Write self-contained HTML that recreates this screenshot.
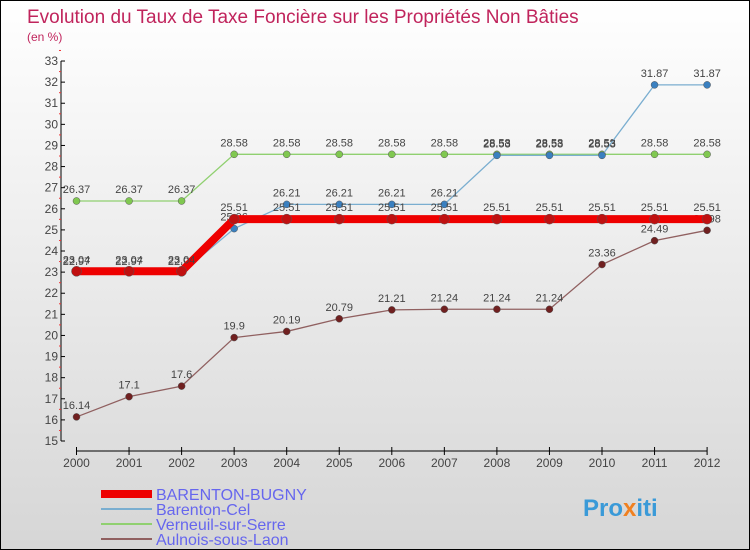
<!DOCTYPE html>
<html><head><meta charset="utf-8"><style>
body{margin:0}
#c{width:748px;height:548px;border:1px solid #000;background:linear-gradient(#fff,#d6d6d6);position:relative;font-family:"Liberation Sans",sans-serif;overflow:hidden}
</style></head><body>
<div id="c">
<svg id="s" width="748" height="548" style="position:absolute;left:0;top:0">
<text x="26" y="22" font-size="19" fill="#c0245c">Evolution du Taux de Taxe Foncière sur les Propriétés Non Bâties</text>
<text x="26" y="40" font-size="12" fill="#c0245c">(en %)</text>
<g id="ax"></g><g id="ser"></g>
<g font-size="16" fill="#6666ee">
<rect x="100" y="489" width="51" height="8" fill="#e00"/>
<text x="155" y="499">BARENTON-BUGNY</text>
<rect x="100" y="507" width="51" height="2" fill="#7aaed0"/>
<text x="155" y="514">Barenton-Cel</text>
<rect x="100" y="522" width="51" height="2" fill="#90d070"/>
<text x="155" y="529">Verneuil-sur-Serre</text>
<rect x="100" y="537" width="51" height="2" fill="#906060"/>
<text x="155" y="544">Aulnois-sous-Laon</text>
</g>
<text x="582" y="515" font-size="24" font-weight="bold" fill="#3a9ad8">Pro<tspan fill="#f08020">x</tspan>iti</text>
</svg></div>
<script>
const years=[2000,2001,2002,2003,2004,2005,2006,2007,2008,2009,2010,2011,2012];
const yTicks=[15,16,17,18,19,20,21,22,23,24,25,26,27,28,29,30,31,32,33];
const bugny=[23.04,23.04,23.04,25.51,25.51,25.51,25.51,25.51,25.51,25.51,25.51,25.51,25.51];
const cel=[22.97,22.97,22.97,25.06,26.21,26.21,26.21,26.21,28.53,28.53,28.53,31.87,31.87];
const verneuil=[26.37,26.37,26.37,28.58,28.58,28.58,28.58,28.58,28.58,28.58,28.58,28.58,28.58];
const aulnois=[16.14,17.1,17.6,19.9,20.19,20.79,21.21,21.24,21.24,21.24,23.36,24.49,24.98];
const NS="http://www.w3.org/2000/svg";
const X=i=>75.5+i*52.55, Y=v=>440-(v-15)*21.11;
function mk(t,a,p){const e=document.createElementNS(NS,t);for(const k in a)e.setAttribute(k,a[k]);p.appendChild(e);return e;}
const ax=document.getElementById('ax');
let yl=mk('line',{x1:60,y1:Y(33),x2:60,y2:Y(15),stroke:'#000'},ax);


yTicks.forEach(v=>{
 mk('line',{x1:60,x2:64,y1:Y(v),y2:Y(v),stroke:'#000'},ax);
 mk('line',{x1:58,x2:60,y1:Y(v+0.5),y2:Y(v+0.5),stroke:'#e33'},ax);
 const t=mk('text',{x:57,y:Y(v)+4,'text-anchor':'end','font-size':12,fill:'#444'},ax);t.textContent=v;
 
 
});
let xl=mk('line',{x1:X(0),y1:450,x2:X(12),y2:450,stroke:'#000'},ax);


years.forEach((y,i)=>{
 mk('line',{x1:X(i),x2:X(i),y1:446,y2:454,stroke:'#000'},ax);
 const t=mk('text',{x:X(i),y:466,'text-anchor':'middle','font-size':12,fill:'#444'},ax);t.textContent=y;
 
 
});
const ser=document.getElementById('ser');
function draw(d,name,col,w,r,mcol){
 const g=mk('g',{},ser);
 
 
 const l=mk('polyline',{points:d.map((v,i)=>X(i)+','+Y(v)).join(' '),fill:'none',stroke:col,'stroke-width':w},g);
 
 
 d.forEach((v,i)=>{
  const c=mk('circle',{cx:X(i),cy:Y(v),r:r,fill:mcol,stroke:'#555','stroke-width':0.5},g);
  
  
  const t=mk('text',{x:X(i),y:Y(v)-8,'text-anchor':'middle','font-size':11,fill:'#444'},g);t.textContent=v;
  
  
 });
}
draw(verneuil,'verneuil','#90d070',1.3,3.5,'#80c850');
draw(aulnois,'aulnois','#906060',1.3,3.5,'#702020');
draw(cel,'barenton-cel','#7aaed0',1.3,3.5,'#3a80c0');
draw(bugny,'barenton-bugny','#e00',8,5,'#c01010');
</script>
</body></html>
